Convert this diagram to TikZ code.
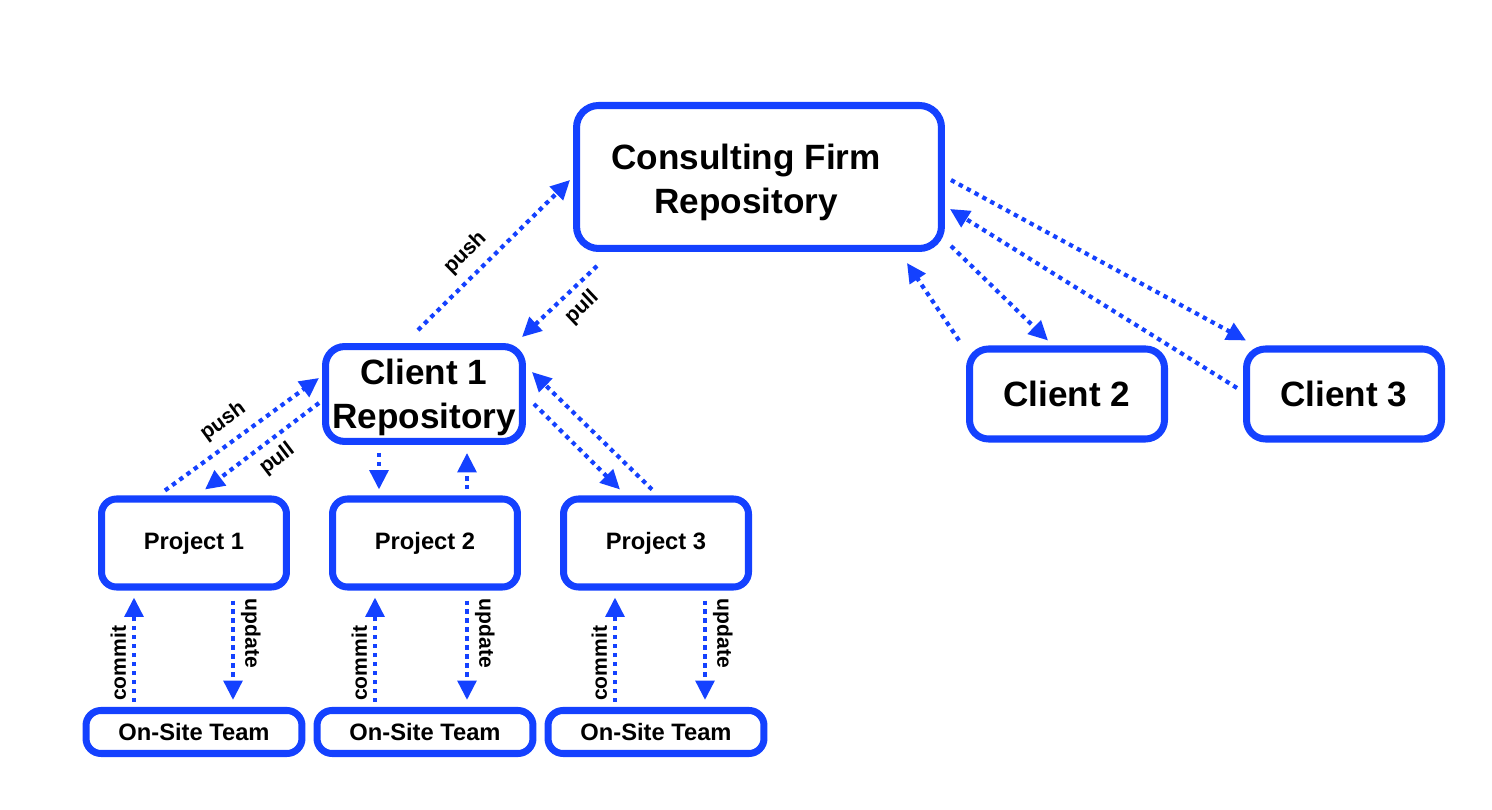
\documentclass[tikz,border=0pt]{standalone}
\usepackage{fontspec}
\setmainfont{Liberation Sans}
\usetikzlibrary{arrows.meta,calc}
\definecolor{gitblue}{RGB}{20,65,255}

\begin{document}
\begin{tikzpicture}[x=0.02cm, y=-0.02cm,
    repo/.style={draw=gitblue, line width=4pt, rounded corners=0.38cm, inner sep=2pt, font=\bfseries\fontsize{20}{25}\selectfont},
    proj/.style={draw=gitblue, line width=4pt, rounded corners=0.3cm, font=\bfseries\fontsize{13.5}{16}\selectfont},
    link/.style={draw=gitblue, line width=2.4pt, dash pattern=on 2.5pt off 2.6pt, -{Triangle[length=11pt,width=10.5pt]}},
    lbl/.style={font=\bfseries\fontsize{12}{14}\selectfont, sloped}]
    \useasboundingbox (0,0) rectangle (1492,810);
    % repositories
    \node[repo, rounded corners=0.44cm, minimum width=7.3cm, minimum height=2.86cm] (cf) at (759,177)
        {\raisebox{-3.4pt}[\height][\depth]{\begin{tabular}{@{}c@{}}Consulting Firm\\Repository\end{tabular}\kern0.52cm}};
    \node[repo, minimum width=3.94cm, minimum height=1.82cm] (c1) at (424,394)
        {\raisebox{-2pt}[\height][\depth]{\begin{tabular}{@{}c@{}}Client 1\\Repository\end{tabular}}};
    \node[repo, minimum width=3.9cm, minimum height=1.8cm] (c2) at (1067,394) {Client 2};
    \node[repo, minimum width=3.9cm, minimum height=1.8cm] (c3) at (1344,394) {Client 3};
    % projects and teams
    \foreach \i/\x in {1/194, 2/425, 3/656} {
        \node[proj, minimum width=3.7cm, minimum height=1.76cm] (p\i) at (\x,543) {Project \i};
        \node[proj, minimum width=4.32cm, minimum height=0.86cm] (t\i) at (\x,732) {On-Site Team};
    }
    % firm <-> client 1
    \draw[link] ($(c1.north)+(-6,-13)$) -- ($(cf.west)+(-3,3)$) node[lbl, pos=0.41, above=2pt] {push};
    \draw[link] ($(cf.south west)+(24,14)$) -- ($(c1.north east)+(-4,-6)$) node[lbl, pos=0.38, below=1pt] {pull};
    % firm <-> clients 2 and 3
    \draw[link] ($(cf.south east)+(6,-6)$) -- ($(c2.north)+(-19,-5)$);
    \draw[link] ($(c2.north west)+(-7,-5)$) -- ($(cf.south east)+(-38,11)$);
    \draw[link] ($(cf.east)+(6,3)$) -- ($(c3.north west)+(3,-5)$);
    \draw[link] ($(c3.west)+(-6,-6)$) -- ($(cf.east)+(5,32)$);
    % client 1 <-> projects
    \draw[link] ($(p1.north)+(-29,-5)$) -- ($(c1.west)+(-3,-16)$) node[lbl, pos=0.46, above=2pt] {push};
    \draw[link] ($(c1.west)+(-3,9)$) -- ($(p1.north)+(11,-6)$) node[lbl, pos=0.47, below=1pt] {pull};
    \draw[link] ($(c1.south)+(-45,8)$) -- ($(p2.north)+(-46,-6)$);
    \draw[link] ($(p2.north)+(42,-6)$) -- ($(c1.south)+(43,8)$);
    \draw[link] ($(c1.east)+(8,10)$) -- ($(p3.north)+(-36,-6)$);
    \draw[link] ($(p3.north)+(-4,-6)$) -- ($(c1.east)+(6,-22)$);
    % projects <-> teams
    \foreach \i/\c/\u in {1/-60/39, 2/-50/42, 3/-41/49} {
        \draw[link] ($(t\i.north)+(\c,-5)$) -- ($(p\i.south)+(\c,7)$) node[lbl, pos=0.37, above] {commit};
        \draw[link] ($(p\i.south)+(\u,10)$) -- ($(t\i.north)+(\u,-7)$) node[lbl, pos=0.33, above] {update};
    }
\end{tikzpicture}
\end{document}
